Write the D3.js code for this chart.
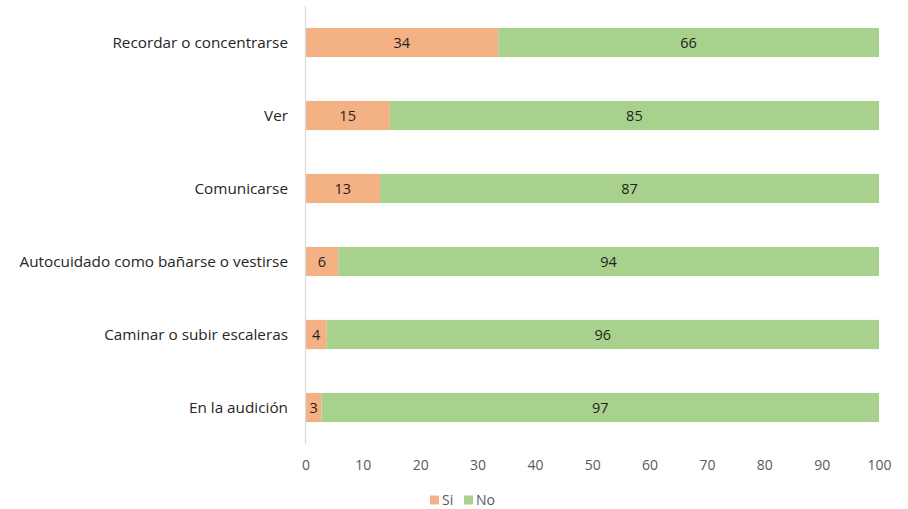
<html>
<head>
<meta charset="utf-8">
<style>
body{margin:0;background:#fff;}
text{font-family:"Open Sans",Lato,sans-serif;}
</style>
<script src="https://d3js.org/d3.v7.min.js"></script>
</head>
<body>
<svg id="chart" width="908" height="509"></svg>
<script>
const categories = ['Recordar o concentrarse','Ver','Comunicarse','Autocuidado como bañarse o vestirse','Caminar o subir escaleras','En la audición'];
const si = [33.6, 14.7, 13.0, 5.7, 3.7, 2.8];
const no = [66.4, 85.3, 87.0, 94.3, 96.3, 97.2];
const ticks = [0,10,20,30,40,50,60,70,80,90,100];
const seriesNames = ['Si','No'];
const colors = ['#F4B183','#A9D18E'];

const svg = d3.select('#chart');
const x = d3.scaleLinear().domain([0,100]).range([305.5,879]);
const y = d3.scaleBand().domain(categories).range([6,444]).paddingInner(0.6).paddingOuter(0.3);

const rows = categories.map((c,i) => ({cat:c, Si:si[i], No:no[i]}));
const stacked = d3.stack().keys(seriesNames)(rows);

const layers = svg.selectAll('.layer').data(stacked).enter().append('g')
  .attr('fill', (d,i) => colors[i]);
layers.selectAll('rect').data(d => d).enter().append('rect')
  .attr('x', d => x(d[0]))
  .attr('y', d => y(d.data.cat))
  .attr('width', d => x(d[1]) - x(d[0]))
  .attr('height', y.bandwidth());

layers.selectAll('text').data(d => d).enter().append('text')
  .attr('x', d => (x(d[0]) + x(d[1])) / 2)
  .attr('y', d => y(d.data.cat) + y.bandwidth()/2)
  .attr('dy','0.35em')
  .attr('text-anchor','middle')
  .attr('font-size',14.5)
  .attr('fill','#1f1f1f')
  .text(d => Math.round(d[1]-d[0]));

// axis line
svg.append('line').attr('x1',305.5).attr('x2',305.5).attr('y1',6).attr('y2',444)
  .attr('stroke','#d9d9d9').attr('stroke-width',1.2);

// category labels
svg.selectAll('.cat').data(categories).enter().append('text')
  .attr('x', 288)
  .attr('y', d => y(d) + y.bandwidth()/2)
  .attr('dy','0.35em')
  .attr('text-anchor','end')
  .attr('font-size',15.3)
  .attr('fill','#262626')
  .text(d => d);

// x axis labels
const xAxis = svg.append('g').attr('transform','translate(0,465)')
  .call(d3.axisBottom(x).tickValues(ticks).tickSize(0).tickPadding(0));
xAxis.select('.domain').remove();
xAxis.selectAll('text').attr('font-size',14).attr('fill','#595959')
  .attr('font-family','"Open Sans",Lato,sans-serif').attr('dy','0.35em').attr('y',0);

// legend
const legend = svg.append('g').attr('transform','translate(430,500)');
const lg = legend.selectAll('g').data(seriesNames).enter().append('g')
  .attr('transform',(d,i) => 'translate(' + (i*34) + ',0)');
lg.append('rect').attr('x',0).attr('y',-4.5).attr('width',9).attr('height',9)
  .attr('fill',(d,i) => colors[i]);
lg.append('text').attr('x',12).attr('y',0).attr('dy','0.35em')
  .attr('font-size',14).attr('fill','#595959').text(d => d);
</script>
</body>
</html>
